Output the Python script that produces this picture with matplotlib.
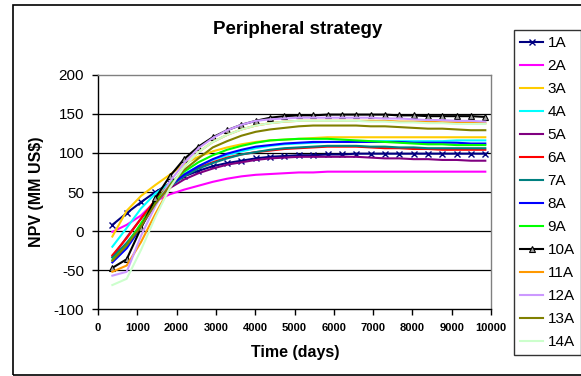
import matplotlib
matplotlib.use("Agg")
import matplotlib.pyplot as plt
from matplotlib.patches import Rectangle

plt.rcParams['font.family'] = ['Liberation Sans', 'DejaVu Sans']

days = [365 * k for k in range(1, 28)]

series_names = ["1A", "2A", "3A", "4A", "5A", "6A", "7A", "8A", "9A", "10A", "11A", "12A", "13A", "14A"]

s1A = [8, 23, 37, 50, 61, 70, 77, 83, 87, 90, 93, 95, 96, 97, 97, 98, 98, 99, 99, 99, 99, 99, 99, 99, 99, 99, 99]
s2A = [-1, 8, 20, 38, 47, 53, 58, 63, 67, 70, 72, 73, 74, 75, 75, 76, 76, 76, 76, 76, 76, 76, 76, 76, 76, 76, 76]
s3A = [-7, 26, 45, 59, 72, 86, 95, 102, 107, 111, 114, 116, 117, 118, 119, 120, 120, 120, 120, 120, 120, 120, 120, 120, 120, 120, 120]
s4A = [-20, 4, 29, 48, 61, 73, 83, 91, 97, 102, 106, 109, 111, 112, 113, 114, 114, 115, 115, 115, 115, 115, 115, 115, 116, 116, 116]
s5A = [-33, -8, 16, 38, 55, 66, 74, 80, 85, 88, 91, 93, 94, 95, 95, 95, 95, 95, 94, 93, 93, 92, 92, 91, 91, 90, 90]
s6A = [-31, -9, 16, 40, 60, 72, 81, 88, 94, 98, 101, 103, 105, 106, 107, 108, 108, 108, 107, 106, 106, 105, 105, 104, 104, 104, 104]
s7A = [-34, -15, 8, 35, 57, 70, 80, 87, 93, 98, 101, 104, 106, 107, 108, 109, 109, 109, 108, 108, 107, 107, 106, 106, 106, 106, 106]
s8A = [-40, -22, 5, 36, 58, 72, 83, 92, 99, 104, 108, 110, 112, 113, 114, 114, 114, 114, 114, 114, 114, 113, 113, 113, 113, 112, 112]
s9A = [-37, -18, 10, 38, 60, 76, 88, 97, 104, 109, 113, 116, 117, 118, 118, 118, 117, 116, 115, 114, 113, 112, 111, 111, 110, 110, 110]
s10A = [-47, -36, 4, 42, 70, 92, 108, 120, 129, 136, 141, 145, 147, 148, 148, 149, 149, 149, 149, 149, 148, 148, 147, 147, 147, 147, 146]
s11A = [-52, -44, -14, 22, 55, 82, 101, 114, 123, 130, 135, 138, 140, 141, 141, 141, 141, 141, 141, 141, 140, 140, 140, 139, 139, 139, 138]
s12A = [-57, -52, -6, 32, 63, 87, 106, 119, 129, 136, 141, 143, 144, 145, 145, 145, 145, 145, 145, 144, 144, 143, 142, 142, 141, 141, 140]
s13A = [-38, -18, 6, 35, 58, 78, 93, 107, 115, 122, 127, 130, 132, 134, 135, 135, 135, 135, 134, 134, 133, 132, 131, 131, 130, 129, 129]
s14A = [-69, -61, -24, 18, 55, 82, 101, 114, 123, 130, 135, 138, 140, 141, 141, 141, 141, 141, 140, 140, 139, 139, 138, 138, 137, 137, 137]

values = [s1A, s2A, s3A, s4A, s5A, s6A, s7A, s8A, s9A, s10A, s11A, s12A, s13A, s14A]
colors = ["#000080", "#FF00FF", "#FFCC00", "#00FFFF", "#800080", "#FF0000", "#008080",
          "#0000FF", "#00FF00", "#000000", "#FF9900", "#CC99FF", "#808000", "#CCFFCC"]

x_ticks = list(range(0, 10001, 1000))
y_ticks = list(range(-100, 201, 50))

W, H = 581, 376
fig = plt.figure(figsize=(W / 100, H / 100), dpi=100)
ax = fig.add_axes([98 / W, 1 - 309.3 / H, (491 - 98) / W, (309.3 - 74.7) / H])

for name, vals, col in zip(series_names, values, colors):
    kw = dict(color=col, lw=1.5, label=name)
    if name == "1A":
        kw.update(marker="x", ms=4, mew=1.0)
    elif name == "10A":
        kw.update(marker="^", ms=4.5, mfc="#a0a0a0", mec="black", mew=0.8)
    ax.plot(days, vals, **kw)

ax.set_xlim(0, 10000)
ax.set_ylim(-100, 200)
ax.set_xticks(x_ticks)
ax.set_yticks(y_ticks)
ax.set_xticklabels([str(v) for v in x_ticks], fontsize=8, fontweight="bold")
ax.set_yticklabels([str(v) for v in y_ticks], fontsize=11)
ax.tick_params(axis="y", direction="out", length=4, width=1, pad=6)
ax.tick_params(axis="x", direction="out", length=4, width=1, pad=6)
for v in y_ticks[1:-1]:
    ax.axhline(v, color="black", lw=0.9, zorder=0.5)

ax.spines["left"].set_color("black")
ax.spines["bottom"].set_color("black")
ax.spines["top"].set_color("#808080")
ax.spines["right"].set_color("#808080")
for s in ax.spines.values():
    s.set_linewidth(1)

fig.text(298 / W, 1 - 30 / H, "Peripheral strategy", ha="center", va="center",
         fontsize=13.5, fontweight="bold")
fig.text(36 / W, 1 - 192 / H, "NPV (MM US$)", ha="center", va="center",
         rotation=90, fontsize=11.5, fontweight="bold")
fig.text(295 / W, 1 - 353 / H, "Time (days)", ha="center", va="center",
         fontsize=11.5, fontweight="bold")

leg = fig.legend(loc="upper left", bbox_to_anchor=(514 / W, 1 - 30 / H),
                 bbox_transform=fig.transFigure, borderaxespad=0,
                 fontsize=11, frameon=True, fancybox=False, shadow=False,
                 handlelength=1.5, handletextpad=0.3, labelspacing=0.59,
                 borderpad=0.4, numpoints=1)
leg.get_frame().set_edgecolor("black")
leg.get_frame().set_linewidth(1)

fig.patches.append(Rectangle((12.7 / W, 1 / H), (W + 5) / W, (H - 6) / H,
                             transform=fig.transFigure, fill=False,
                             edgecolor="black", lw=1.2))

fig.savefig("out.png", dpi=100)
